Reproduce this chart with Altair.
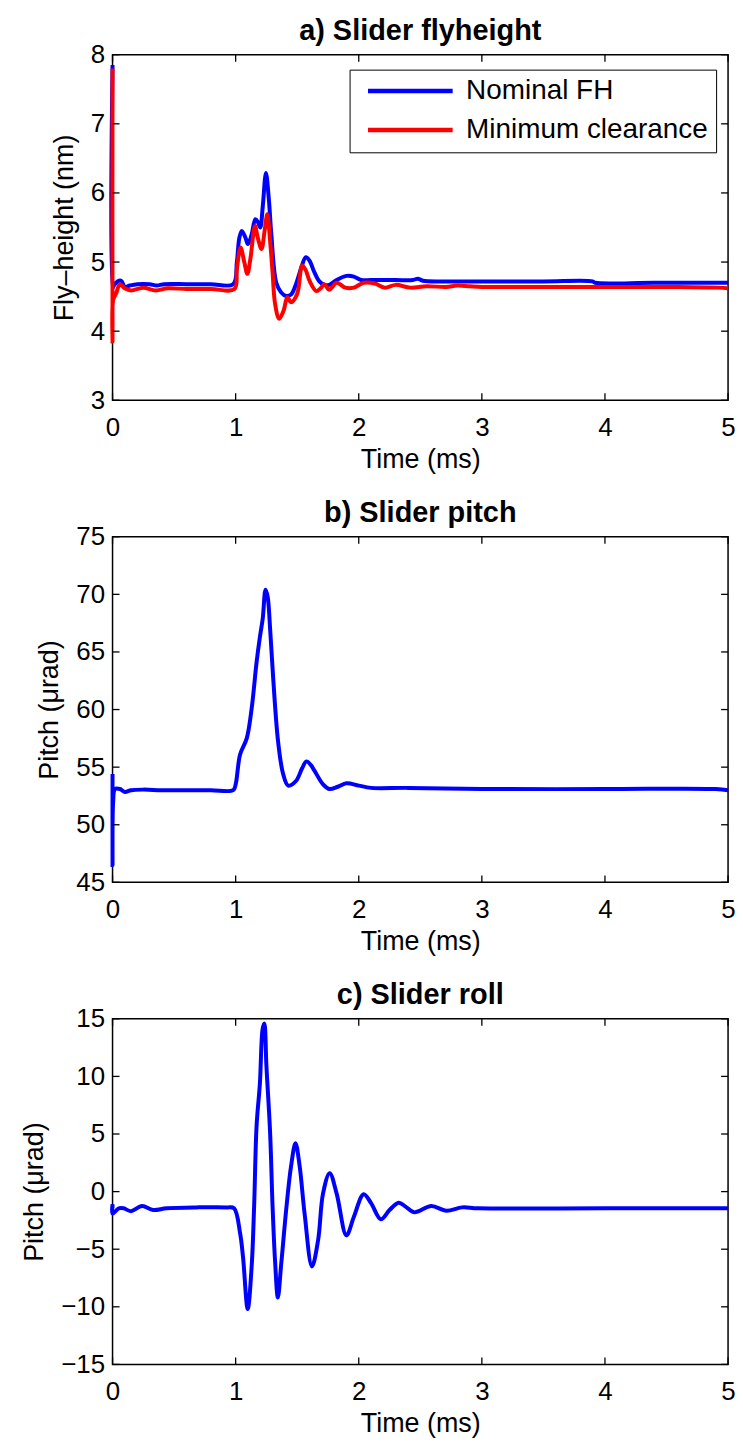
import altair as alt
import pandas as pd

# ---- a) slider fly-height (nm) vs time (ms) ----
fh_nom_t = [0.0, 0.0, 0.01, 0.04, 0.07, 0.10, 0.14, 0.20, 0.30, 0.36, 0.42, 0.60, 0.80, 0.98,
            1.01, 1.03, 1.05, 1.08, 1.10, 1.13, 1.16, 1.18, 1.20, 1.22, 1.246, 1.27, 1.29,
            1.33, 1.37, 1.41, 1.45, 1.49, 1.53, 1.57, 1.60, 1.64, 1.68, 1.72, 1.76, 1.82,
            1.90, 1.96, 2.02, 2.10, 2.30, 2.44, 2.48, 2.52, 2.70, 3.00, 3.50, 3.90, 3.92,
            4.40, 5.0]
fh_nom = [7.85, 4.62, 4.66, 4.72, 4.73, 4.64, 4.66, 4.68, 4.68, 4.66, 4.68, 4.68, 4.68, 4.68,
          5.00, 5.35, 5.45, 5.35, 5.26, 5.40, 5.62, 5.58, 5.50, 5.80, 6.29, 5.90, 5.40,
          4.70, 4.56, 4.51, 4.53, 4.68, 4.90, 5.07, 5.02, 4.85, 4.72, 4.67, 4.67, 4.74,
          4.80, 4.79, 4.74, 4.74, 4.74, 4.74, 4.76, 4.73, 4.72, 4.72, 4.72, 4.72, 4.70,
          4.70, 4.70]

fh_min_t = [0.0, 0.0, 0.005, 0.03, 0.06, 0.10, 0.15, 0.25, 0.35, 0.45, 0.60, 0.80, 0.99,
            1.01, 1.04, 1.07, 1.095, 1.12, 1.157, 1.18, 1.21, 1.235, 1.257, 1.28, 1.30,
            1.32, 1.354, 1.39, 1.42, 1.45, 1.50, 1.54, 1.57, 1.60, 1.656, 1.69, 1.72,
            1.76, 1.82, 1.89, 1.96, 2.04, 2.13, 2.21, 2.30, 2.42, 2.55, 2.71, 2.80, 2.90,
            3.00, 3.50, 4.00, 4.60, 4.92, 5.0]
fh_min = [7.80, 3.85, 4.45, 4.55, 4.68, 4.62, 4.59, 4.63, 4.59, 4.62, 4.61, 4.61, 4.61,
          4.90, 5.21, 5.00, 4.83, 5.05, 5.52, 5.35, 5.19, 5.45, 5.69, 5.30, 4.85,
          4.40, 4.18, 4.30, 4.49, 4.42, 4.54, 4.95, 4.88, 4.73, 4.58, 4.62, 4.68,
          4.60, 4.70, 4.63, 4.63, 4.70, 4.69, 4.63, 4.67, 4.63, 4.65, 4.64, 4.66, 4.65,
          4.64, 4.64, 4.64, 4.64, 4.63, 4.62]

# ---- b) slider pitch (µrad) ----
pitch_t = [0.0, 0.0, 0.005, 0.02, 0.06, 0.10, 0.15, 0.25, 0.40, 0.60, 0.80, 0.98,
           1.00, 1.036, 1.09, 1.13, 1.17, 1.197, 1.22, 1.243, 1.26, 1.28, 1.305, 1.345,
           1.386, 1.427, 1.49, 1.54, 1.575, 1.61, 1.64, 1.71, 1.76, 1.83, 1.90, 2.00,
           2.10, 2.40, 3.00, 4.00, 4.90, 5.0]
pitch = [54.4, 46.5, 52.0, 53.1, 53.1, 52.85, 53.0, 53.05, 53.0, 53.0, 53.0, 53.0,
         53.5, 56.1, 57.5, 60.1, 64.1, 66.3, 67.9, 70.4, 69.8, 67.0, 62.7, 57.2,
         54.4, 53.4, 53.8, 54.9, 55.5, 55.2, 54.7, 53.5, 53.1, 53.3, 53.6, 53.4,
         53.2, 53.2, 53.1, 53.1, 53.1, 53.0]

# ---- c) slider roll (µrad) ----
roll_t = [0.0, 0.0, 0.0, 0.05, 0.09, 0.15, 0.24, 0.33, 0.44, 0.68, 0.93, 0.987,
          1.036, 1.06, 1.098, 1.13, 1.15, 1.17, 1.197, 1.219, 1.233, 1.25, 1.28, 1.30,
          1.32, 1.343, 1.37, 1.413, 1.45, 1.486, 1.52, 1.56, 1.62, 1.67, 1.71, 1.764,
          1.82, 1.90, 1.96, 2.04, 2.10, 2.18, 2.25, 2.325, 2.38, 2.45, 2.59, 2.71,
          2.84, 2.97, 4.0, 5.0]
roll = [-1.45, -1.1, -1.9, -1.45, -1.45, -1.7, -1.25, -1.6, -1.45, -1.37, -1.37, -1.45,
        -3.6, -5.7, -10.2, -6.5, -1.3, 5.7, 9.4, 14.1, 14.6, 10.9, 5.1, -1.3,
        -6.0, -9.2, -6.3, -1.3, 2.2, 4.2, 2.2, -1.9, -6.5, -4.2, -0.15, 1.6,
        -0.15, -3.8, -2.2, -0.23, -1.0, -2.4, -1.6, -0.96, -1.3, -1.8, -1.25, -1.66,
        -1.37, -1.45, -1.45, -1.45]

time_ticks = [0, 1, 2, 3, 4, 5]
fh_ticks = [3, 4, 5, 6, 7, 8]
pitch_ticks = [45, 50, 55, 60, 65, 70, 75]
roll_ticks = [-15, -10, -5, 0, 5, 10, 15]

W, H = 618, 347
TICK = 7
FONT = "Liberation Sans"
BLUE, RED = "#0000ff", "#ff0000"


def series(t, v, name):
    return pd.DataFrame({"t": t, "v": v, "series": name, "i": range(len(t))})


def panel(df, title, ytitle, ydomain, yticks, color_enc):
    xscale = alt.Scale(domain=[0, 5], nice=False)
    yscale = alt.Scale(domain=ydomain, nice=False)
    xaxis = alt.Axis(values=time_ticks, title="Time (ms)", format="d", labelFlush=False)
    yaxis = alt.Axis(values=yticks, title=ytitle, format="d")

    line = alt.Chart(df).mark_line(strokeWidth=4, interpolate="catmull-rom").encode(
        x=alt.X("t:Q", scale=xscale, axis=xaxis),
        y=alt.Y("v:Q", scale=yscale, axis=yaxis),
        color=color_enc, order=alt.Order("i:Q"), detail="series:N")

    # boxed axes: short tick marks pointing into the plot on all four sides
    xt = pd.DataFrame({"tv": time_ticks})
    yt = pd.DataFrame({"tv": yticks})
    xs = alt.X("tv:Q", scale=xscale, axis=xaxis)
    ys = alt.Y("tv:Q", scale=yscale, axis=yaxis)
    rule = dict(color="black", strokeWidth=1.3)
    ticks = [
        alt.Chart(xt).mark_rule(**rule).encode(x=xs, y=alt.value(H), y2=alt.value(H - TICK)),
        alt.Chart(xt).mark_rule(**rule).encode(x=xs, y=alt.value(0), y2=alt.value(TICK)),
        alt.Chart(yt).mark_rule(**rule).encode(y=ys, x=alt.value(0), x2=alt.value(TICK)),
        alt.Chart(yt).mark_rule(**rule).encode(y=ys, x=alt.value(W), x2=alt.value(W - TICK)),
    ]
    return alt.layer(line, *ticks).properties(width=W, height=H, title=title)


fh_df = pd.concat([series(fh_nom_t, fh_nom, "Nominal FH"),
                   series(fh_min_t, fh_min, "Minimum clearance")])
fh_color = alt.Color(
    "series:N",
    scale=alt.Scale(domain=["Nominal FH", "Minimum clearance"], range=[BLUE, RED]),
    legend=alt.Legend(title=None, orient="none", legendX=238, legendY=15,
                      symbolType="stroke", symbolSize=7225, symbolStrokeWidth=4.5,
                      symbolOffset=8, clipHeight=27, labelLimit=0,
                      labelFontSize=28, labelFont=FONT, labelColor="black",
                      labelOffset=11, rowPadding=10, padding=8,
                      strokeColor="black", fillColor="white"))

a = panel(fh_df, "a) Slider flyheight", "Fly\u2013height (nm)", [3, 8], fh_ticks, fh_color)
b = panel(series(pitch_t, pitch, "pitch"), "b) Slider pitch", "Pitch (\u03bcrad)",
          [45, 75], pitch_ticks, alt.value(BLUE))
c = panel(series(roll_t, roll, "roll"), "c) Slider roll", "Pitch (\u03bcrad)",
          [-15, 15], roll_ticks, alt.value(BLUE))

chart = alt.vconcat(a, b, c, spacing=25).properties(
    padding={"left": 20, "top": 13, "right": 6, "bottom": 5},
    background="white",
).configure_view(stroke="black", strokeWidth=1.5).configure_axis(
    domain=False, ticks=False, grid=False,
    labelFont=FONT, labelFontSize=26, labelColor="black", labelPadding=8,
    titleFont=FONT, titleFontSize=27, titleColor="black", titleFontWeight="normal",
    titlePadding=12,
).configure_axisX(labelPadding=14, titlePadding=6).configure_title(
    font=FONT, fontSize=29, fontWeight="bold", color="black", offset=-4
)

chart.save("out.html", embed_options={"renderer": "svg", "actions": False})
